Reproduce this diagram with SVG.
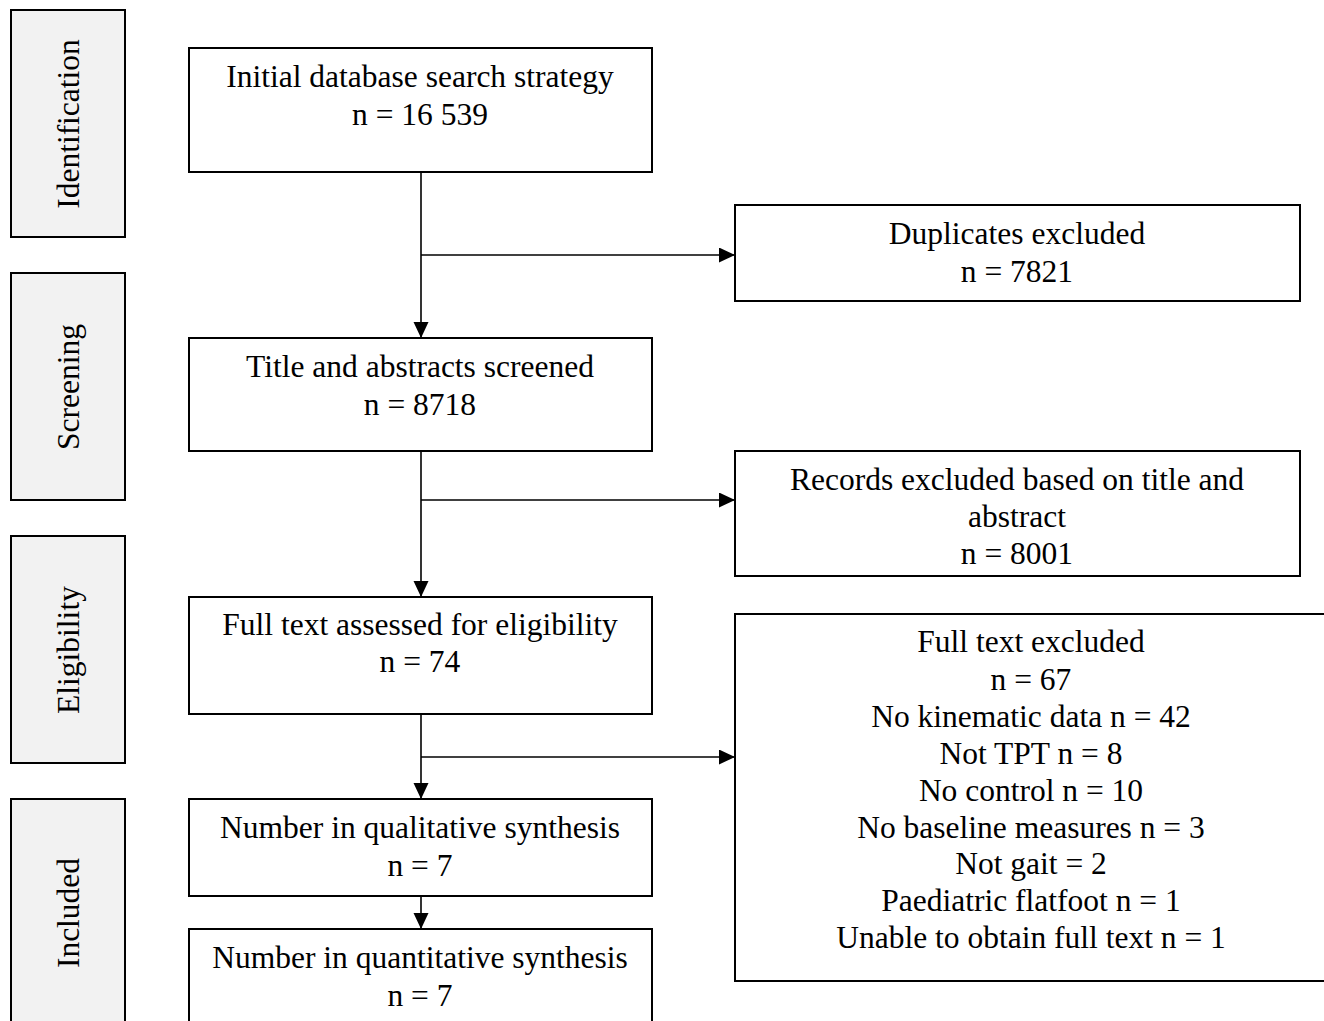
<svg xmlns="http://www.w3.org/2000/svg" width="1324" height="1021" viewBox="0 0 1324 1021">
<style>
.box{fill:#fff;stroke:#000;stroke-width:2}
.side{fill:#f2f2f2;stroke:#000;stroke-width:2}
.t{font-family:"Liberation Serif","Times New Roman",serif;font-size:31.5px;fill:#000;text-anchor:middle}
.c{stroke:#000;stroke-width:1.6;fill:none}
</style>
<defs>
<marker id="ah" markerUnits="userSpaceOnUse" markerWidth="16" markerHeight="16" refX="16" refY="7.5" orient="auto">
<path d="M0,0 L16,7.5 L0,15 Z" fill="#000"/>
</marker>
</defs>
<rect width="1324" height="1021" fill="#fff"/>
<g id="stage-identification"><rect class="side" x="11" y="10" width="114" height="227"/><text class="t" transform="translate(79,124) rotate(-90)">Identification</text></g>
<g id="stage-screening"><rect class="side" x="11" y="273" width="114" height="227"/><text class="t" transform="translate(79,387) rotate(-90)">Screening</text></g>
<g id="stage-eligibility"><rect class="side" x="11" y="536" width="114" height="227"/><text class="t" transform="translate(79,650) rotate(-90)">Eligibility</text></g>
<g id="stage-included"><rect class="side" x="11" y="799" width="114" height="240"/><text class="t" transform="translate(79,913) rotate(-90)">Included</text></g>

<g id="connectors">
<line class="c" x1="421" y1="172" x2="421" y2="338" marker-end="url(#ah)"/>
<line class="c" x1="421" y1="255" x2="735" y2="255" marker-end="url(#ah)"/>
<line class="c" x1="421" y1="451" x2="421" y2="597" marker-end="url(#ah)"/>
<line class="c" x1="421" y1="500" x2="735" y2="500" marker-end="url(#ah)"/>
<line class="c" x1="421" y1="714" x2="421" y2="799" marker-end="url(#ah)"/>
<line class="c" x1="421" y1="757" x2="735" y2="757" marker-end="url(#ah)"/>
<line class="c" x1="421" y1="896" x2="421" y2="929" marker-end="url(#ah)"/>
</g>

<g id="initial"><rect class="box" x="189" y="48" width="463" height="124"/><text class="t" x="420" y="87">Initial database search strategy</text><text class="t" x="420" y="125">n = 16 539</text></g>
<g id="duplicates"><rect class="box" x="735" y="205" width="565" height="96"/><text class="t" x="1017" y="244">Duplicates excluded</text><text class="t" x="1017" y="282">n = 7821</text></g>
<g id="screened"><rect class="box" x="189" y="338" width="463" height="113"/><text class="t" x="420" y="377">Title and abstracts screened</text><text class="t" x="420" y="415">n = 8718</text></g>
<g id="records-excluded"><rect class="box" x="735" y="451" width="565" height="125"/><text class="t" x="1017" y="490">Records excluded based on title and</text><text class="t" x="1017" y="527">abstract</text><text class="t" x="1017" y="564">n = 8001</text></g>
<g id="fulltext"><rect class="box" x="189" y="597" width="463" height="117"/><text class="t" x="420" y="635">Full text assessed for eligibility</text><text class="t" x="420" y="672">n = 74</text></g>
<g id="fulltext-excluded"><rect class="box" x="735" y="614" width="594" height="367"/>
<text class="t" x="1031" y="652">Full text excluded</text>
<text class="t" x="1031" y="690">n = 67</text>
<text class="t" x="1031" y="727">No kinematic data n = 42</text>
<text class="t" x="1031" y="764">Not TPT n = 8</text>
<text class="t" x="1031" y="801">No control n = 10</text>
<text class="t" x="1031" y="838">No baseline measures n = 3</text>
<text class="t" x="1031" y="874">Not gait = 2</text>
<text class="t" x="1031" y="911">Paediatric flatfoot n = 1</text>
<text class="t" x="1031" y="948">Unable to obtain full text n = 1</text>
</g>
<g id="qualitative"><rect class="box" x="189" y="799" width="463" height="97"/><text class="t" x="420" y="838">Number in qualitative synthesis</text><text class="t" x="420" y="876">n = 7</text></g>
<g id="quantitative"><rect class="box" x="189" y="929" width="463" height="110"/><text class="t" x="420" y="968">Number in quantitative synthesis</text><text class="t" x="420" y="1006">n = 7</text></g>
</svg>
